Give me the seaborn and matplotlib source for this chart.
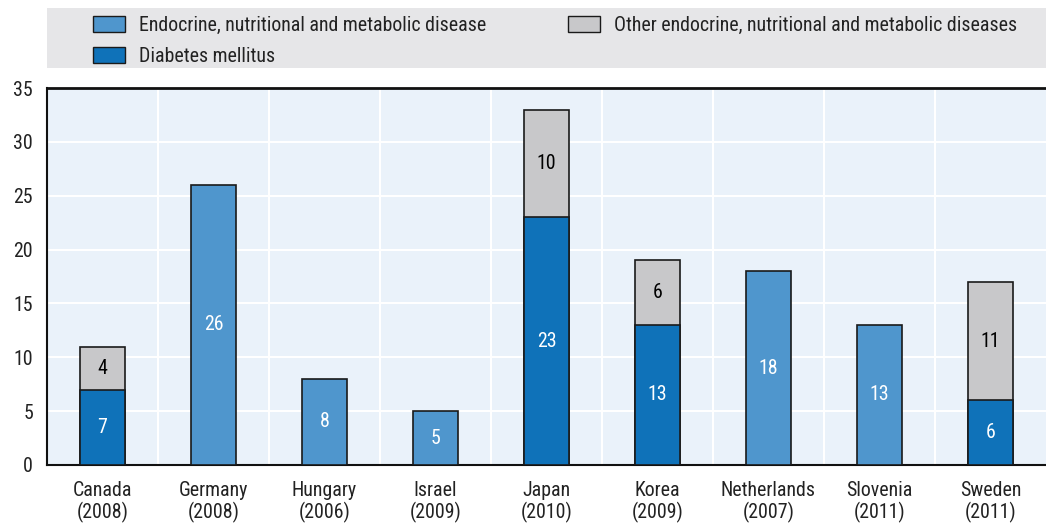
import numpy as np
import pandas as pd
import matplotlib
matplotlib.use("Agg")
import matplotlib.pyplot as plt
import seaborn as sns
from matplotlib.patches import Patch, Rectangle

countries = ["Canada\n(2008)", "Germany\n(2008)", "Hungary\n(2006)", "Israel\n(2009)", "Japan\n(2010)",
             "Korea\n(2009)", "Netherlands\n(2007)", "Slovenia\n(2011)", "Sweden\n(2011)"]
endocrine = [np.nan, 26, 8, 5, np.nan, np.nan, 18, 13, np.nan]
diabetes = [7, np.nan, np.nan, np.nan, 23, 13, np.nan, np.nan, 6]
other = [4, np.nan, np.nan, np.nan, 10, 6, np.nan, np.nan, 11]
labels = ["Endocrine, nutritional and metabolic disease", "Diabetes mellitus",
          "Other endocrine, nutritional and metabolic diseases"]

c_endo = "#4f96cd"
c_diab = "#0f72b9"
c_other = "#c8c8ca"
edge = "#1a1a1a"

sns.set_theme(style="white")
plt.rcParams["font.family"] = ["Roboto Condensed", "DejaVu Sans Condensed", "Liberation Sans Narrow",
                               "Roboto", "DejaVu Sans"]
plt.rcParams["font.stretch"] = "condensed"

df = pd.DataFrame({"country": countries, "endo": endocrine, "diab": diabetes, "other": other})
df["total"] = df["diab"] + df["other"]

W, H = 1046, 523
fig = plt.figure(figsize=(W / 100, H / 100), dpi=100)
ax = fig.add_axes([47 / W, 1 - 465 / H, 1 - 47 / W, (465 - 88) / H])
ax.set_facecolor("#eaf2fa")

kw = dict(order=countries, width=0.4, edgecolor=edge, linewidth=1.2, ax=ax, zorder=3)
sns.barplot(data=df.dropna(subset=["total"]), x="country", y="total", color=c_other, saturation=1, **kw)
sns.barplot(data=df.dropna(subset=["diab"]), x="country", y="diab", color=c_diab, saturation=1, **kw)
sns.barplot(data=df.dropna(subset=["endo"]), x="country", y="endo", color=c_endo, saturation=1, **kw)

fs = 14.3
for i, c in enumerate(countries):
    e, d, o = endocrine[i], diabetes[i], other[i]
    if not np.isnan(e):
        ax.text(i, e / 2, f"{int(e)}", ha="center", va="center", color="white", fontsize=fs, zorder=5)
    if not np.isnan(d):
        ax.text(i, d / 2, f"{int(d)}", ha="center", va="center", color="white", fontsize=fs, zorder=5)
        ax.text(i, d + o / 2, f"{int(o)}", ha="center", va="center", color="black", fontsize=fs, zorder=5)

ax.set_ylim(0, 35)
ax.set_xlim(-0.5, len(countries) - 0.5)
ax.set_yticks(range(0, 36, 5))
ax.set_xlabel("")
ax.set_ylabel("")
ax.set_xticks(range(len(countries)))
ax.set_xticklabels(countries, fontsize=fs, color="#222222", linespacing=1.12)
ax.tick_params(axis="y", labelsize=fs, labelcolor="#222222", direction="in", length=6, color="#777777", width=1, pad=10)
ax.tick_params(axis="x", length=0, pad=11.5)
ax.set_xticks(np.arange(0.5, len(countries) - 0.5, 1), minor=True)
ax.tick_params(axis="x", which="minor", direction="in", length=6, color="#222222", width=1)

ax.yaxis.grid(True, color="white", linewidth=1.5, zorder=0)
ax.xaxis.grid(True, which="minor", color="white", linewidth=1.5, zorder=0)
ax.xaxis.grid(False, which="major")
ax.set_axisbelow(True)

for s in ["top", "left", "bottom"]:
    ax.spines[s].set_visible(True)
    ax.spines[s].set_color("#111111")
ax.spines["top"].set_linewidth(2)
ax.spines["left"].set_linewidth(1.5)
ax.spines["bottom"].set_linewidth(1.5)
ax.spines["right"].set_visible(False)

# legend background band
fig.patches.append(Rectangle((47 / W, 1 - 68 / H), 1 - 47 / W, 60 / H, transform=fig.transFigure,
                             facecolor="#e6e6e8", edgecolor="none", zorder=0))

handles = [Patch(facecolor=c_endo, edgecolor=edge, linewidth=1),
           Patch(facecolor=c_diab, edgecolor=edge, linewidth=1),
           Patch(facecolor=c_other, edgecolor=edge, linewidth=1)]
lkw = dict(frameon=False, fontsize=fs, handlelength=1.6, handleheight=0.85, handletextpad=0.7,
           labelspacing=0.62, borderaxespad=0, borderpad=0, loc="upper left", labelcolor="#222222")
leg1 = fig.legend(handles[:2], labels[:2], bbox_to_anchor=(93 / W, 1 - 15.5 / H), **lkw)
leg2 = fig.legend(handles[2:], labels[2:], bbox_to_anchor=(568 / W, 1 - 15.5 / H), **lkw)

fig.savefig("out.png", dpi=100)
